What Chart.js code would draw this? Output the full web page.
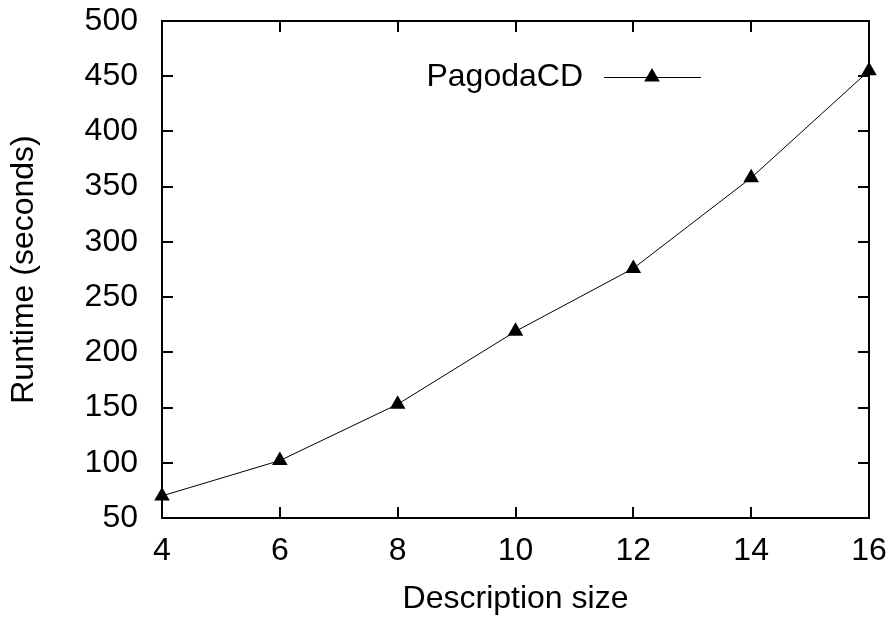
<!DOCTYPE html>
<html>
<head>
<meta charset="utf-8">
<script src="https://cdn.jsdelivr.net/npm/chart.js@4/dist/chart.umd.min.js"></script>
<style>
  html, body { margin: 0; padding: 0; background: #fff; }
  #wrap { width: 895px; height: 617px; }
</style>
</head>
<body>
<div id="wrap"><canvas id="chart" width="895" height="617"></canvas></div>
<script>
// --- Data ---
const descSizes = [4, 6, 8, 10, 12, 14, 16];
const runtimes = [70, 102, 153, 219, 276, 358, 455];
const seriesName = 'PagodaCD';
const xTitle = 'Description size';
const yTitle = 'Runtime (seconds)';

const FONT = 'Liberation Sans, Arial, Helvetica, sans-serif';
const FONT_SIZE = 32;
const TICK_LEN = 11;

// frame + inward ticks on all four sides (gnuplot style)
const framePlugin = {
  id: 'frame',
  afterDraw(chart) {
    const { ctx, chartArea: a, scales } = chart;
    ctx.save();
    ctx.strokeStyle = '#000';
    ctx.lineWidth = 2;
    ctx.beginPath();
    scales.x.ticks.forEach(t => {
      const px = Math.round(scales.x.getPixelForValue(t.value));
      ctx.moveTo(px, a.bottom); ctx.lineTo(px, a.bottom - TICK_LEN);
      ctx.moveTo(px, a.top); ctx.lineTo(px, a.top + TICK_LEN);
    });
    scales.y.ticks.forEach(t => {
      const py = Math.round(scales.y.getPixelForValue(t.value));
      ctx.moveTo(a.left, py); ctx.lineTo(a.left + TICK_LEN, py);
      ctx.moveTo(a.right, py); ctx.lineTo(a.right - TICK_LEN, py);
    });
    ctx.stroke();
    ctx.strokeRect(a.left, a.top, a.right - a.left, a.bottom - a.top);
    ctx.restore();
  }
};

// key drawn inside the plot, text right of which sits a line sample with marker
const keyPlugin = {
  id: 'key',
  afterDraw(chart) {
    const { ctx } = chart;
    const ds = chart.data.datasets[0];
    const y = 77;
    ctx.save();
    ctx.font = FONT_SIZE + 'px ' + FONT;
    ctx.fillStyle = '#000';
    ctx.textAlign = 'right';
    ctx.textBaseline = 'middle';
    ctx.fillText(ds.label, 583, y);
    ctx.strokeStyle = ds.borderColor;
    ctx.lineWidth = 1;
    ctx.beginPath();
    ctx.moveTo(604, y + 0.5); ctx.lineTo(701, y + 0.5);
    ctx.stroke();
    const r = ds.pointRadius, cx = 652;
    ctx.fillStyle = ds.pointBackgroundColor;
    ctx.beginPath();
    ctx.moveTo(cx, y - r);
    ctx.lineTo(cx + r * Math.sqrt(3) / 2, y + r / 2);
    ctx.lineTo(cx - r * Math.sqrt(3) / 2, y + r / 2);
    ctx.closePath();
    ctx.fill();
    ctx.restore();
  }
};

// pin the scale boxes so the plot area lands where the reference has it
function noOverhang(s) {
  s.paddingTop = 0; s.paddingBottom = 0;
  s.paddingLeft = 0; s.paddingRight = 0;
}

Chart.defaults.font.family = FONT;
Chart.defaults.font.size = FONT_SIZE;
Chart.defaults.color = '#000';

new Chart(document.getElementById('chart'), {
  type: 'line',
  data: {
    datasets: [{
      label: seriesName,
      data: descSizes.map((x, i) => ({ x: x, y: runtimes[i] })),
      borderColor: '#000',
      borderWidth: 1,
      pointStyle: 'triangle',
      pointRadius: 9,
      pointBackgroundColor: '#000',
      pointBorderColor: '#000',
      pointBorderWidth: 0,
      tension: 0,
      clip: false
    }]
  },
  options: {
    responsive: false,
    animation: false,
    devicePixelRatio: 1,
    layout: { padding: { left: 0, top: 21, right: 26, bottom: 0 } },
    plugins: {
      legend: { display: false },
      tooltip: { enabled: false }
    },
    scales: {
      x: {
        type: 'linear',
        min: 4, max: 16,
        afterFit: s => { s.height = 99; noOverhang(s); },
        grid: { display: false, drawTicks: false },
        border: { display: false },
        ticks: { stepSize: 2, padding: 14, maxRotation: 0 },
        title: { display: true, text: xTitle, font: { size: FONT_SIZE, lineHeight: 1 }, padding: { top: 0, bottom: 2 } }
      },
      y: {
        min: 50, max: 500,
        afterFit: s => { s.width = 162; noOverhang(s); },
        grid: { display: false, drawTicks: false },
        border: { display: false },
        ticks: { stepSize: 50, padding: 24 },
        title: { display: true, text: yTitle, font: { size: FONT_SIZE, lineHeight: 1 }, padding: { top: 8, bottom: 0 } }
      }
    }
  },
  plugins: [framePlugin, keyPlugin]
});
</script>
</body>
</html>
